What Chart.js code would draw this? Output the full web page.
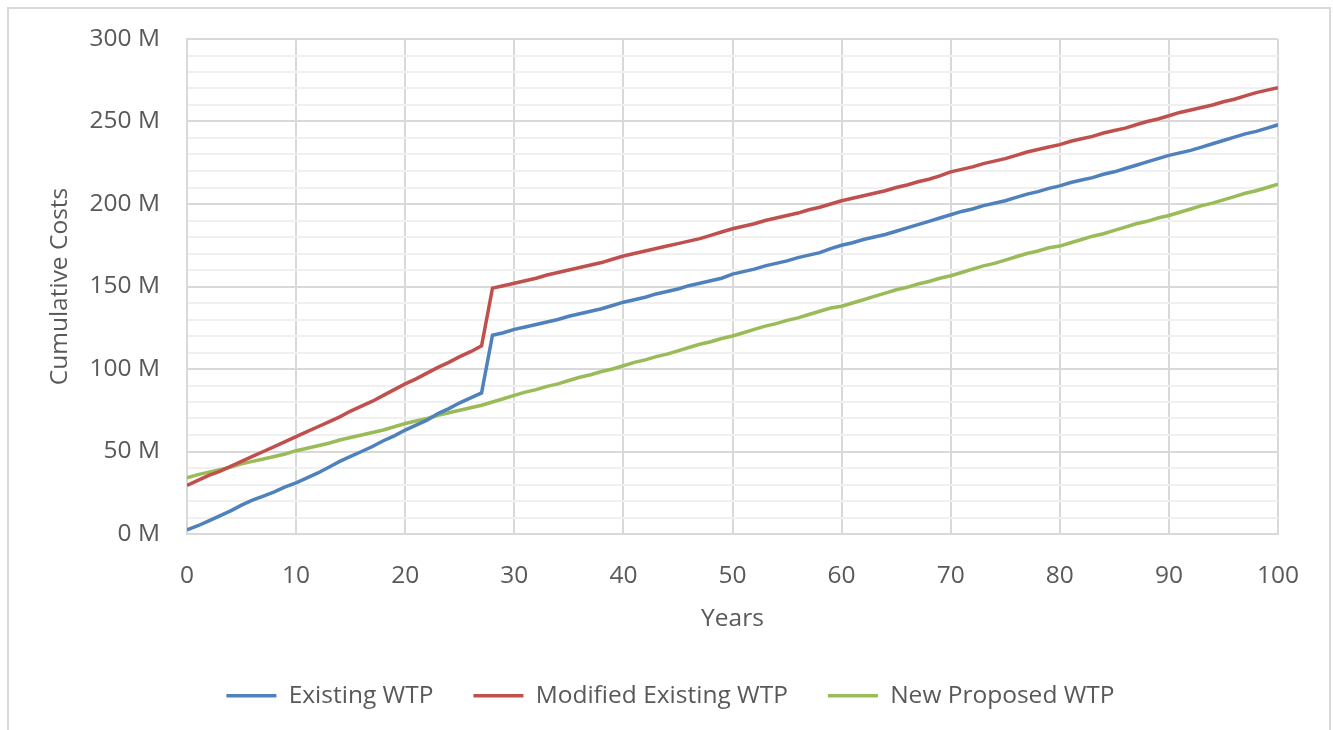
<!DOCTYPE html>
<html>
<head>
<meta charset="utf-8">
<script src="https://cdn.jsdelivr.net/npm/chart.js@4/dist/chart.umd.min.js"></script>
<style>
  html, body { margin: 0; padding: 0; background: #fff; overflow: hidden; width: 1333px; height: 730px; }
  #frame { position: absolute; left: 7px; top: 7px; width: 1320px; height: 760px; border: 2px solid #d9d9d9; box-sizing: content-box; }
  #c { position: absolute; left: 0; top: 0; }
</style>
</head>
<body>
<div id="frame"></div>
<canvas id="c" width="1333" height="718" style="width:1333px;height:718px"></canvas>
<script>
// Years (x categories)
const years = [0,1,2,3,4,5,6,7,8,9,10,11,12,13,14,15,16,17,18,19,20,21,22,23,24,25,26,27,28,29,30,31,32,33,34,35,36,37,38,39,40,41,42,43,44,45,46,47,48,49,50,51,52,53,54,55,56,57,58,59,60,61,62,63,64,65,66,67,68,69,70,71,72,73,74,75,76,77,78,79,80,81,82,83,84,85,86,87,88,89,90,91,92,93,94,95,96,97,98,99,100];

// Cumulative costs, millions
const existingWTP = [2.5,5,8,11,14,17.5,20.5,23,25.5,28.5,31,34,37,40.5,44,47,50,53,56.5,59.5,63,66,69,73,76,79.5,82.5,85.5,120.5,122,124,125.5,127,128.5,130,132,133.5,135,136.5,138.5,140.5,142,143.5,145.5,147,148.5,150.5,152,153.5,155,157.5,159,160.5,162.5,164,165.5,167.5,169,170.5,173,175,176.5,178.5,180,181.5,183.5,185.5,187.5,189.5,191.5,193.5,195.5,197,199,200.5,202,204,206,207.5,209.5,211,213,214.5,216,218,219.5,221.5,223.5,225.5,227.5,229.5,231,232.5,234.5,236.5,238.5,240.5,242.5,244,246,248];

const modifiedExistingWTP = [29.5,32.5,35.5,38,41,44,47,50,53,56,59,62,65,68,71,74.5,77.5,80.5,84,87.5,91,94,97.5,101,104,107.5,110.5,114,149,150.5,152,153.5,155,157,158.5,160,161.5,163,164.5,166.5,168.5,170,171.5,173,174.5,176,177.5,179,181,183,185,186.5,188,190,191.5,193,194.5,196.5,198,200,202,203.5,205,206.5,208,210,211.5,213.5,215,217,219.5,221,222.5,224.5,226,227.5,229.5,231.5,233,234.5,236,238,239.5,241,243,244.5,246,248,250,251.5,253.5,255.5,257,258.5,260,262,263.5,265.5,267.5,269,270.5];

const newProposedWTP = [34,36,37.5,39,40.5,42.5,44,45.5,47,48.5,50.5,52,53.5,55,57,58.5,60,61.5,63,65,67,68.5,70,72,73.5,75,76.5,78,80,82,84,86,87.5,89.5,91,93,95,96.5,98.5,100,102,104,105.5,107.5,109,111,113,115,116.5,118.5,120,122,124,126,127.5,129.5,131,133,135,137,138,140,142,144,146,148,149.5,151.5,153,155,156.5,158.5,160.5,162.5,164,166,168,170,171.5,173.5,174.5,176.5,178.5,180.5,182,184,186,188,189.5,191.5,193,195,197,199,200.5,202.5,204.5,206.5,208,210,212];

const seriesNames = ['Existing WTP', 'Modified Existing WTP', 'New Proposed WTP'];
const seriesColors = ['#4F81BD', '#C0504D', '#9BBB59'];
const seriesValues = [existingWTP, modifiedExistingWTP, newProposedWTP];

const FONT = "'Open Sans', 'Liberation Sans', sans-serif";
const TXT = '#595959';
const MAJOR = '#d9d9d9';
const MINOR = '#f0f0f0';

const datasets = seriesNames.map((name, i) => ({
  label: name,
  data: years.map((y, j) => ({ x: y, y: seriesValues[i][j] })),
  borderColor: seriesColors[i],
  backgroundColor: seriesColors[i],
  borderWidth: 3.5,
  pointRadius: 0,
  pointHoverRadius: 0,
  tension: 0,
  fill: false
}));

new Chart(document.getElementById('c'), {
  type: 'line',
  data: { datasets },
  options: {
    responsive: false,
    animation: false,
    events: [],
    layout: { padding: { top: 39, left: 8, right: 0, bottom: 0 } },
    plugins: {
      tooltip: { enabled: false },
      legend: {
        position: 'bottom',
        labels: {
          usePointStyle: true,
          pointStyle: 'line',
          pointStyleWidth: 50,
          padding: 40,
          color: TXT,
          font: { family: FONT, size: 24.5 }
        }
      }
    },
    scales: {
      x: {
        type: 'linear',
        min: 0,
        max: 100,
        afterFit: (s) => { s.height = 109.5; },
        ticks: { stepSize: 10, padding: 27, color: TXT, font: { family: FONT, size: 24.5 }, maxRotation: 0 },
        grid: { color: MAJOR, lineWidth: 2, drawTicks: false },
        border: { color: MAJOR, width: 2 },
        title: { display: true, text: 'Years', color: TXT, font: { family: FONT, size: 24.5 }, padding: { top: 0, bottom: 9.5 } }
      },
      y: {
        min: 0,
        max: 300,
        afterFit: (s) => { s.width = 179; },
        ticks: {
          stepSize: 10,
          autoSkip: false,
          padding: 27,
          color: TXT,
          font: { family: FONT, size: 24.5, lineHeight: 0.9 },
          callback: (v) => (v % 50 === 0 ? v + ' M' : '')
        },
        grid: {
          drawTicks: false,
          lineWidth: 2,
          color: (ctx) => (ctx.tick && ctx.tick.value % 50 === 0 ? MAJOR : MINOR)
        },
        border: { color: MAJOR, width: 2 },
        title: { display: true, text: 'Cumulative Costs', color: TXT, font: { family: FONT, size: 24.5 }, padding: { top: 37, bottom: 0 } }
      },
      yRight: {
        position: 'right',
        display: true,
        afterFit: (s) => { s.width = 55; },
        ticks: { display: false },
        grid: { display: false, drawTicks: false },
        border: { display: false }
      }
    }
  }
});
</script>
</body>
</html>
